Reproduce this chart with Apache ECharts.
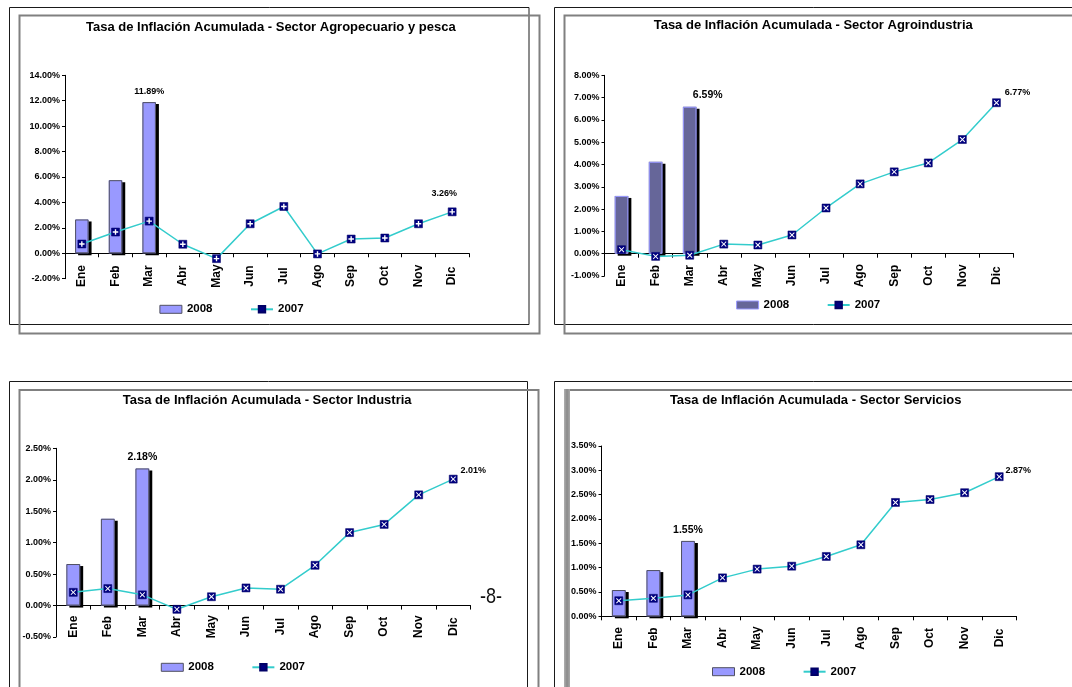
<!DOCTYPE html>
<html><head><meta charset="utf-8">
<script src="https://cdn.jsdelivr.net/npm/echarts@6/dist/echarts.min.js"></script>
<style>html,body{margin:0;padding:0;background:#fff}#c{width:1072px;height:687px}</style>
</head><body><div id="c"></div>
<script>
// ---- data ----
const months = ['Ene','Feb','Mar','Abr','May','Jun','Jul','Ago','Sep','Oct','Nov','Dic'];
const titles = [
  'Tasa de Inflación Acumulada - Sector Agropecuario y pesca',
  'Tasa de Inflación Acumulada - Sector Agroindustria',
  'Tasa de Inflación Acumulada - Sector Industria',
  'Tasa de Inflación Acumulada - Sector Servicios'
];
const agro2008 = [2.66, 5.75, 11.89];
const agro2007 = [0.73, 1.67, 2.53, 0.71, -0.42, 2.32, 3.68, -0.05, 1.12, 1.20, 2.32, 3.26];
const agroind2008 = [2.59, 4.12, 6.59];
const agroind2007 = [0.18, -0.12, -0.07, 0.43, 0.39, 0.84, 2.05, 3.13, 3.67, 4.07, 5.12, 6.77];
const ind2008 = [0.66, 1.38, 2.18];
const ind2007 = [0.21, 0.27, 0.17, -0.06, 0.14, 0.28, 0.26, 0.64, 1.16, 1.29, 1.76, 2.01];
const serv2008 = [0.54, 0.95, 1.55];
const serv2007 = [0.32, 0.37, 0.44, 0.79, 0.97, 1.03, 1.23, 1.47, 2.34, 2.40, 2.54, 2.87];
const seriesNames = ['2008', '2007'];
const pageNumber = '-8-';

// ---- styling / layout ----
const FONT = '"Liberation Sans", Arial, sans-serif';
const PLUS = 'path://M3,0H5V3H8V5H5V8H3V5H0V3H3Z';
const CROSS = 'path://M0,1L1,0L4,3L7,0L8,1L5,4L8,7L7,8L4,5L1,8L0,7L3,4Z';
const fmt = v => v.toFixed(2) + '%';

const panels = [
  {title: titles[0], bars: agro2008, line: agro2007, min: -2, max: 14, interval: 2,
   grid: [65, 75.3, 404, 203.4], titlePos: [270.8, 28.3], leg: [159.4, 310.3], labMargin: -2.7,
   barColor: '#9999FF', barBorder: '#505060', mark: PLUS,
   barLab: {fs: 9, d: 6, off: [0, 0]}, lineLab: {pos: 'top', d: 10, off: [-8, 0]}},
  {title: titles[1], bars: agroind2008, line: agroind2007, min: -1, max: 8, interval: 1,
   grid: [604.5, 75.3, 409, 200.7], titlePos: [813.2, 26.7], leg: [736.1, 306], labMargin: -0.3,
   barColor: '#666699', barBorder: '#9999FF', mark: CROSS,
   barLab: {fs: 10.5, d: 6, off: [18, 0]}, lineLab: {pos: 'right', d: 4, off: [0, -10]}},
  {title: titles[2], bars: ind2008, line: ind2007, min: -0.5, max: 2.5, interval: 0.5,
   grid: [56, 448.3, 414.5, 188.7], titlePos: [267.2, 401.7], leg: [160.8, 668.3], labMargin: -10.3,
   barColor: '#9999FF', barBorder: '#505060', mark: CROSS,
   barLab: {fs: 10.5, d: 5.5, off: [0, 0]}, lineLab: {pos: 'right', d: 3, off: [0, -9]}},
  {title: titles[3], bars: serv2008, line: serv2007, min: 0, max: 3.5, interval: 0.5,
   grid: [601.5, 446, 415, 170.3], titlePos: [815.7, 401.7], leg: [712, 672.7], labMargin: 21.7,
   barColor: '#9999FF', barBorder: '#505060', mark: CROSS,
   barLab: {fs: 10.5, d: 5, off: [0, 0]}, lineLab: {pos: 'right', d: 2, off: [0, -6]}}
];

const option = {
  backgroundColor: '#fff', animation: false,
  title: [], legend: [], grid: [], xAxis: [], yAxis: [], series: [], graphic: []
};

panels.forEach((p, k) => {
  option.title.push({text: p.title, left: p.titlePos[0], top: p.titlePos[1] - 7.5, textAlign: 'center', padding: 0,
    textStyle: {fontSize: 13, fontWeight: 'bold', color: '#000', fontFamily: FONT}});
  option.grid.push({left: p.grid[0], top: p.grid[1], width: p.grid[2], height: p.grid[3]});
  option.xAxis.push({type: 'category', gridIndex: k, data: months,
    axisLine: {onZero: true, lineStyle: {color: '#000', width: 1}},
    axisTick: {show: true, length: 4, lineStyle: {color: '#000'}},
    axisLabel: {interval: 0, rotate: 90, align: 'center', verticalAlign: 'middle', margin: p.labMargin,
      color: '#000', fontSize: 12, fontWeight: 'bold', fontFamily: FONT},
    splitLine: {show: false}});
  option.yAxis.push({type: 'value', gridIndex: k, min: p.min, max: p.max, interval: p.interval,
    axisLine: {show: true, lineStyle: {color: '#000', width: 1}},
    axisTick: {show: true, length: 3, lineStyle: {color: '#000'}},
    splitLine: {show: false},
    axisLabel: {formatter: fmt, margin: 5, color: '#000', fontSize: 9, fontWeight: 'bold', fontFamily: FONT}});

  const barData = p.bars.map((v, i) => i === p.bars.length - 1 ? {value: v, label: {show: true, position: 'top',
    distance: p.barLab.d, offset: p.barLab.off, fontSize: p.barLab.fs, fontWeight: 'bold', color: '#000',
    fontFamily: FONT, formatter: q => fmt(q.value)}} : v);
  const lineData = p.line.map((v, i) => i === p.line.length - 1 ? {value: v, label: {show: true, position: p.lineLab.pos,
    distance: p.lineLab.d, offset: p.lineLab.off, fontSize: 9, fontWeight: 'bold', color: '#000',
    fontFamily: FONT, formatter: q => fmt(q.value)}} : v);

  // filled bars with a hard black drop shadow
  option.series.push({type: 'bar', name: seriesNames[0] + '#' + k, xAxisIndex: k, yAxisIndex: k, data: barData,
    barWidth: '40%', z: 2,
    itemStyle: {color: p.barColor, borderWidth: 0,
      shadowColor: '#000', shadowBlur: 0, shadowOffsetX: 3, shadowOffsetY: 2}});
  // thin outline on the same bars (no shadow)
  option.series.push({type: 'bar', name: 'contorno' + k, xAxisIndex: k, yAxisIndex: k, data: p.bars,
    barWidth: '40%', barGap: '-100%', z: 3, silent: true,
    itemStyle: {color: 'rgba(0,0,0,0)', borderColor: p.barBorder, borderWidth: 1}});
  option.series.push({type: 'line', name: seriesNames[1] + '#' + k, xAxisIndex: k, yAxisIndex: k, data: lineData,
    symbol: 'rect', symbolSize: 8, showSymbol: true, showAllSymbol: true, z: 4,
    lineStyle: {color: '#33CCCC', width: 1.5},
    itemStyle: {color: '#000080', borderColor: '#000066', borderWidth: 0.5}});
  option.series.push({type: 'line', name: 'marca' + k, xAxisIndex: k, yAxisIndex: k, data: p.line,
    symbol: p.mark, symbolSize: 5.5, showSymbol: true, showAllSymbol: true, silent: true, z: 5,
    lineStyle: {opacity: 0, width: 0}, itemStyle: {color: '#fff'}, emphasis: {disabled: true}});

  option.legend.push({data: [
      {name: seriesNames[0] + '#' + k, icon: 'rect', itemStyle: {shadowBlur: 0, shadowOffsetX: 0, shadowOffsetY: 0, shadowColor: 'transparent', borderColor: p.barBorder, borderWidth: 1}},
      {name: seriesNames[1] + '#' + k}],
    formatter: n => n.split('#')[0], left: p.leg[0], top: p.leg[1] - 7, padding: 0,
    itemWidth: 22, itemHeight: 8, itemGap: 37.5, selectedMode: false,
    textStyle: {fontSize: 11.5, fontWeight: 'bold', color: '#000', fontFamily: FONT}});
});

option.graphic = [
  {type: 'rect', silent: true, shape: {x: 9.5, y: 7.5, width: 519.5, height: 317}, style: {fill: 'none', stroke: '#1a1a1a', lineWidth: 1}},
  {type: 'rect', silent: true, shape: {x: 19.5, y: 15.5, width: 520, height: 318}, style: {fill: 'none', stroke: '#808080', lineWidth: 2}},
  {type: 'rect', silent: true, shape: {x: 554.5, y: 7.5, width: 600, height: 317}, style: {fill: 'none', stroke: '#1a1a1a', lineWidth: 1}},
  {type: 'rect', silent: true, shape: {x: 564.5, y: 15.5, width: 600, height: 318}, style: {fill: 'none', stroke: '#808080', lineWidth: 2}},
  {type: 'rect', silent: true, shape: {x: 9.5, y: 381.5, width: 518, height: 400}, style: {fill: 'none', stroke: '#1a1a1a', lineWidth: 1}},
  {type: 'rect', silent: true, shape: {x: 19.5, y: 390, width: 519, height: 400}, style: {fill: 'none', stroke: '#808080', lineWidth: 2}},
  {type: 'rect', silent: true, shape: {x: 554.5, y: 381.5, width: 600, height: 400}, style: {fill: 'none', stroke: '#1a1a1a', lineWidth: 1}},
  {type: 'line', silent: true, shape: {x1: 565, y1: 390, x2: 1080, y2: 390}, style: {stroke: '#808080', lineWidth: 2}},
  {type: 'rect', silent: true, shape: {x: 564, y: 389, width: 6, height: 300},
    style: {fill: new echarts.graphic.LinearGradient(0, 0, 1, 0, [{offset: 0, color: '#b0b0b0'}, {offset: 0.5, color: '#8a8a8a'}, {offset: 1, color: '#a8a8a8'}])}},
  {type: 'text', silent: true, x: 491, y: 596.7, scaleX: 0.82,
    style: {text: pageNumber, font: '22px "Liberation Sans", Arial, sans-serif', fill: '#111', align: 'center', verticalAlign: 'middle'}}
];

const chart = echarts.init(document.getElementById('c'), null, {renderer: 'canvas'});
chart.setOption(option);
</script>
</body></html>
